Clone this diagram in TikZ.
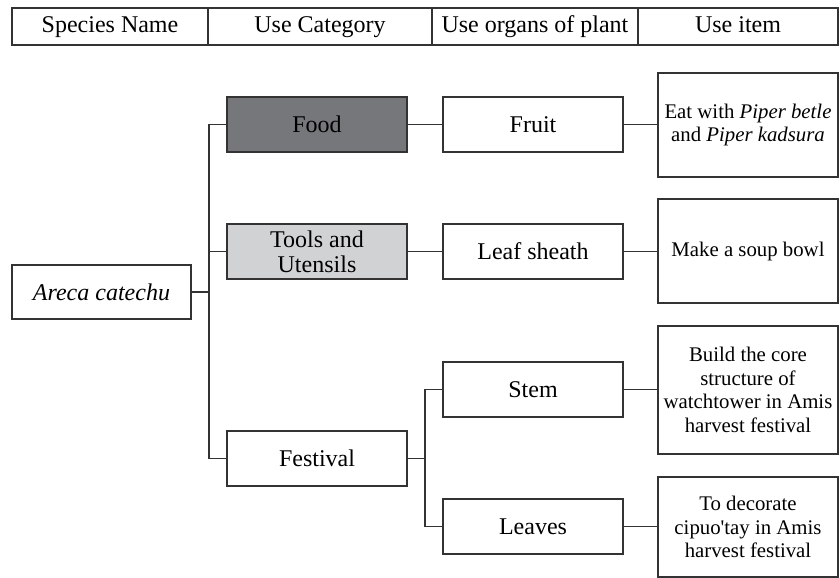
\documentclass[tikz,border=0pt]{standalone}
\usepackage{fontspec}
\setmainfont{Liberation Serif}
\definecolor{lineclr}{HTML}{333333}
\definecolor{fooddark}{HTML}{76777A}
\definecolor{toolslight}{HTML}{D1D2D4}
\begin{document}
\begin{tikzpicture}[x=0.75pt,y=-0.75pt,
  link/.style={draw=lineclr, line width=1.1pt},
  base/.style={draw=lineclr, line width=1.1pt, inner sep=0pt, outer sep=0pt, align=center,
    font=\fontsize{18pt}{18.75pt}\selectfont},
  catbox/.style={base, minimum width=135pt, minimum height=41.25pt},
  itembox/.style={base, minimum width=135pt,
    font=\fontsize{15.6pt}{17.8pt}\selectfont},
  headcell/.style={base, minimum height=27.75pt, text height=12.5pt, text depth=3.8pt,
    anchor=north west}]
\useasboundingbox (0,0) rectangle (840,578);

% header row
\node[headcell, minimum width=147pt] (h1) at (12,8) {Species Name};
\node[headcell, minimum width=168pt] (h2) at (208,8) {Use Category};
\node[headcell, minimum width=154.5pt] (h3) at (432,8) {Use organs of plant};
\node[headcell, minimum width=150pt] (h4) at (638,8) {Use item};

% species
\node[catbox, minimum width=134.25pt, minimum height=40.5pt] (areca) at (101.5,292) {\itshape Areca catechu};

% use categories
\node[catbox, fill=fooddark] (food) at (317,124.5) {Food};
\node[catbox, fill=toolslight] (tools) at (317,251.5) {Tools and\\Utensils};
\node[catbox] (festival) at (317,458.5) {Festival};

% plant organs
\node[catbox] (fruit) at (533,124.5) {Fruit};
\node[catbox] (sheath) at (533,251.5) {Leaf sheath};
\node[catbox] (stem) at (533,389.5) {Stem};
\node[catbox] (leaves) at (533,526.5) {Leaves};

% use items
\node[itembox, minimum height=78pt] (eat) at (748,125) {Eat with \textit{Piper betle}\\and \textit{Piper kadsura}};
\node[itembox, minimum height=78pt] (soup) at (748,251) {Make a soup bowl};
\node[itembox, minimum height=96pt] (build) at (748,390) {Build the core\\structure of\\watchtower in Amis\\harvest festival};
\node[itembox, minimum height=75pt] (decor) at (748,527) {To decorate\\cipuo\textquotesingle tay in Amis\\harvest festival};

% connectors
\coordinate (j1) at (209,292);
\coordinate (j2) at (425,458.5);
\draw[link] (areca.east) -- (j1);
\draw[link] (j1) |- (food.west);
\draw[link] (j1) |- (tools.west);
\draw[link] (j1) |- (festival.west);
\draw[link] (food.east) -- (fruit.west);
\draw[link] (tools.east) -- (sheath.west);
\draw[link] (festival.east) -- (j2);
\draw[link] (j2) |- (stem.west);
\draw[link] (j2) |- (leaves.west);
\draw[link] (fruit.east) -- (eat.west |- fruit.east);
\draw[link] (sheath.east) -- (soup.west |- sheath.east);
\draw[link] (stem.east) -- (build.west |- stem.east);
\draw[link] (leaves.east) -- (decor.west |- leaves.east);
\end{tikzpicture}
\end{document}
